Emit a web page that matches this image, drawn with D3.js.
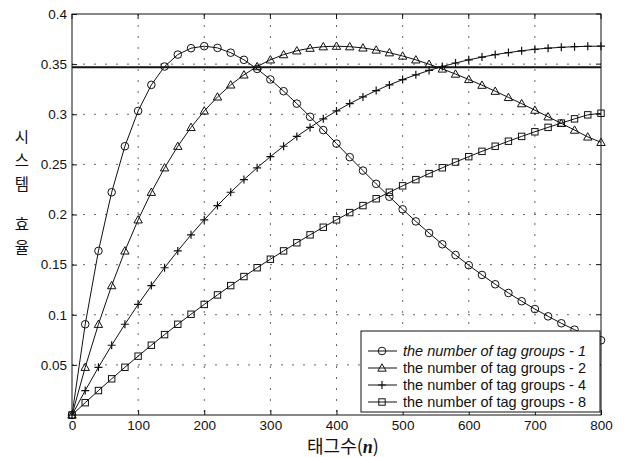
<!DOCTYPE html>
<html>
<head>
<meta charset="utf-8">
<script src="https://cdn.jsdelivr.net/npm/d3@7"></script>
<style>
  html, body { margin: 0; padding: 0; background: #fff; }
  svg { display: block; }
</style>
</head>
<body>
<svg id="chart" width="624" height="457"></svg>
<script>
// Number of tags n (sampled every 20 tags)
const tagCounts = [0,20,40,60,80,100,120,140,160,180,200,220,240,260,280,300,320,340,360,380,400,
  420,440,460,480,500,520,540,560,580,600,620,640,660,680,700,720,740,760,780,800];

// System efficiency per number of tag groups
const groups1 = [0,0.0905,0.1637,0.2222,0.2681,0.3033,0.3293,0.3476,0.3595,0.3659,0.3679,
  0.3662,0.3614,0.3543,0.3452,0.3347,0.3230,0.3106,0.2975,0.2842,0.2707,
  0.2572,0.2438,0.2306,0.2177,0.2052,0.1931,0.1815,0.1703,0.1596,0.1494,
  0.1397,0.1304,0.1217,0.1135,0.1057,0.0984,0.0915,0.0851,0.0790,0.0745];
const groups2 = [0,0.0476,0.0905,0.1291,0.1637,0.1947,0.2222,0.2466,0.2681,0.2869,0.3033,
  0.3173,0.3293,0.3393,0.3476,0.3543,0.3595,0.3633,0.3659,0.3674,0.3679,
  0.3674,0.3662,0.3641,0.3614,0.3581,0.3543,0.3499,0.3452,0.3401,0.3347,
  0.3290,0.3230,0.3168,0.3106,0.3041,0.2975,0.2909,0.2842,0.2774,0.2720];
const groups4 = [0,0.0244,0.0476,0.0696,0.0905,0.1103,0.1291,0.1469,0.1637,0.1797,0.1947,
  0.2089,0.2222,0.2348,0.2466,0.2577,0.2681,0.2779,0.2869,0.2954,0.3033,
  0.3106,0.3173,0.3236,0.3293,0.3346,0.3393,0.3437,0.3476,0.3511,0.3543,
  0.3570,0.3595,0.3615,0.3633,0.3648,0.3659,0.3668,0.3674,0.3678,0.3679];
const groups8 = [0,0.0123,0.0244,0.0361,0.0476,0.0587,0.0696,0.0802,0.0905,0.1005,0.1103,
  0.1198,0.1291,0.1381,0.1469,0.1554,0.1637,0.1718,0.1797,0.1873,0.1947,
  0.2019,0.2089,0.2157,0.2222,0.2286,0.2348,0.2408,0.2466,0.2523,0.2577,
  0.2630,0.2681,0.2731,0.2779,0.2825,0.2869,0.2912,0.2954,0.2994,0.3010];

// Reference efficiency level (horizontal line)
const referenceLevel = [0.347];

const seriesNames = [
  "the number of tag groups - 1",
  "the number of tag groups - 2",
  "the number of tag groups - 4",
  "the number of tag groups - 8"
];
const seriesMarkers = ["circle", "triangle", "plus", "square"];

const xTicks = [0,100,200,300,400,500,600,700,800];
const yTicks = [0.05,0.1,0.15,0.2,0.25,0.3,0.35,0.4];
const yTickLabels = ["0.05","0.1","0.15","0.2","0.25","0.3","0.35","0.4"];
const yLabelChars = ["시","스","템","효","율"];

const series = [groups1, groups2, groups4, groups8].map((vals, i) => ({
  name: seriesNames[i],
  marker: seriesMarkers[i],
  points: tagCounts.map((n, j) => ({ n, v: vals[j] }))
}));

const svg = d3.select("#chart");
const plotL = 72, plotR = 601, plotT = 14, plotB = 415;

const x = d3.scaleLinear().domain([0, 800]).range([plotL, plotR]);
const y = d3.scaleLinear().domain([0, 0.4]).range([plotB, plotT]);

const ink = "#111";
const tickFont = "Liberation Sans, Arial, sans-serif";

// Dotted grid
const grid = svg.append("g").attr("stroke", "#666").attr("stroke-width", 1)
  .attr("stroke-dasharray", "2,9");
grid.selectAll("line.vx").data(xTicks.slice(1, -1)).join("line")
  .attr("x1", d => x(d)).attr("x2", d => x(d))
  .attr("y1", plotT).attr("y2", plotB);
grid.selectAll("line.hy").data(yTicks.slice(0, -1)).join("line")
  .attr("x1", plotL).attr("x2", plotR)
  .attr("y1", d => y(d)).attr("y2", d => y(d));

// Axes with inward ticks
const xAxis = d3.axisBottom(x).tickValues(xTicks).tickSize(-5).tickPadding(5);
const yAxis = d3.axisLeft(y).tickValues(yTicks)
  .tickFormat((d, i) => yTickLabels[i]).tickSize(-5).tickPadding(5);

const gx = svg.append("g").attr("transform", `translate(0,${plotB})`).call(xAxis);
const gy = svg.append("g").attr("transform", `translate(${plotL},0)`).call(yAxis);
[gx, gy].forEach(g => {
  g.select(".domain").remove();
  g.selectAll(".tick line").attr("stroke", ink);
  g.selectAll(".tick text").attr("fill", ink)
    .style("font-family", tickFont).style("font-size", "13.5px");
});
// Top and right inner ticks
svg.append("g").selectAll("line").data(xTicks).join("line")
  .attr("x1", d => x(d)).attr("x2", d => x(d)).attr("y1", plotT).attr("y2", plotT + 5)
  .attr("stroke", ink);
svg.append("g").selectAll("line").data(yTicks).join("line")
  .attr("x1", plotR).attr("x2", plotR - 5).attr("y1", d => y(d)).attr("y2", d => y(d))
  .attr("stroke", ink);

// Plot frame
svg.append("rect").attr("x", plotL).attr("y", plotT)
  .attr("width", plotR - plotL).attr("height", plotB - plotT)
  .attr("fill", "none").attr("stroke", ink).attr("stroke-width", 1);

// Reference level line
svg.selectAll("line.ref").data(referenceLevel).join("line")
  .attr("x1", plotL).attr("x2", plotR)
  .attr("y1", d => y(d)).attr("y2", d => y(d))
  .attr("stroke", ink).attr("stroke-width", 2);

// Marker drawing
function drawMarker(g, type, cx, cy) {
  if (type === "circle") {
    g.append("circle").attr("cx", cx).attr("cy", cy).attr("r", 3.8)
      .attr("fill", "none").attr("stroke", ink).attr("stroke-width", 1);
  } else if (type === "triangle") {
    const s = 4.2;
    g.append("path")
      .attr("d", `M${cx},${cy - s}L${cx + s},${cy + s * 0.75}L${cx - s},${cy + s * 0.75}Z`)
      .attr("fill", "none").attr("stroke", ink).attr("stroke-width", 1);
  } else if (type === "plus") {
    const s = 4;
    g.append("path")
      .attr("d", `M${cx - s},${cy}L${cx + s},${cy}M${cx},${cy - s}L${cx},${cy + s}`)
      .attr("fill", "none").attr("stroke", ink).attr("stroke-width", 1.2);
  } else {
    const s = 3.2;
    g.append("rect").attr("x", cx - s).attr("y", cy - s)
      .attr("width", 2 * s).attr("height", 2 * s)
      .attr("fill", "none").attr("stroke", ink).attr("stroke-width", 1);
  }
}

const line = d3.line().x(d => x(d.n)).y(d => y(d.v));

series.forEach(s => {
  const g = svg.append("g");
  g.append("path").datum(s.points).attr("d", line)
    .attr("fill", "none").attr("stroke", ink).attr("stroke-width", 1);
  s.points.forEach(p => drawMarker(g, s.marker, x(p.n), y(p.v)));
});

// Legend
const lg = svg.append("g");
lg.append("rect").attr("x", 361).attr("y", 331).attr("width", 239).attr("height", 81)
  .attr("fill", "#fff").attr("stroke", ink).attr("stroke-width", 1);
series.forEach((s, i) => {
  const cy = 351 + i * 17;
  lg.append("line").attr("x1", 368).attr("x2", 397).attr("y1", cy).attr("y2", cy)
    .attr("stroke", ink).attr("stroke-width", 1);
  drawMarker(lg, s.marker, 382, cy);
  lg.append("text").attr("x", 403).attr("y", cy + 5)
    .attr("fill", ink)
    .style("font-family", tickFont).style("font-size", "14.5px")
    .style("font-style", i === 0 ? "italic" : "normal")
    .text(s.name);
});

// X axis title
const xt = svg.append("text").attr("x", 343).attr("y", 453)
  .attr("text-anchor", "middle").attr("fill", ink)
  .style("font-family", "Noto Sans CJK KR, sans-serif").style("font-size", "18px");
xt.append("tspan").text("태그수(");
xt.append("tspan").style("font-family", "Liberation Serif, serif")
  .style("font-style", "italic").style("font-weight", "bold").text("n");
xt.append("tspan").text(")");

// Y axis title, stacked characters
const yPos = [137, 160, 184, 224, 247];
svg.append("g").selectAll("text").data(yLabelChars).join("text")
  .attr("x", 22).attr("y", (d, i) => yPos[i] + 6)
  .attr("text-anchor", "middle").attr("fill", ink)
  .style("font-family", "Noto Sans CJK KR, sans-serif").style("font-size", "15.5px")
  .text(d => d);
</script>
</body>
</html>
